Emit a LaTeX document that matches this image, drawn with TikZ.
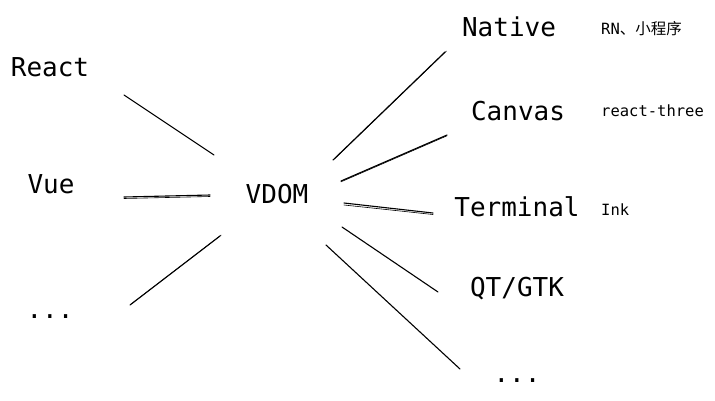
\documentclass[tikz,border=0pt]{standalone}
\usepackage{fontspec}
\setmonofont{DejaVu Sans Mono}
\newfontfamily\cjkfont{Noto Sans CJK SC}
\begin{document}
\begin{tikzpicture}[x=1pt,y=-1pt,
  big/.style={font=\ttfamily\fontsize{26}{30}\selectfont, inner sep=0pt, anchor=center},
  small/.style={font=\ttfamily\fontsize{15.5}{18}\selectfont, inner sep=0pt, anchor=west},
  link/.style={line width=1.1pt, line cap=round},
  sketch/.style={line width=0.6pt, line cap=round}]
\useasboundingbox (0,0) rectangle (715,400);
\fill[white] (0,0) rectangle (715,400);
% nodes
\node[big] (react) at (50,67) {React};
\node[big] (vue) at (51,184) {Vue};
\node[big] (ldots) at (50,317) {...};
\node[big] (vdom) at (277,194) {VDOM};
\node[big] (native) at (509,27) {Native};
\node[big] (canvas) at (518,111) {Canvas};
\node[big] (terminal) at (517,207) {Terminal};
\node[big] (qt) at (517,289) {QT/GTK};
\node[big] (rdots) at (517,381) {...};
\node[small] (rn) at (601,29) {RN{\cjkfont 、小程序}};
\node[small] (three) at (601,111) {react-three};
\node[small] (ink) at (601,210) {Ink};
% connector end points
\coordinate (a1) at (124,95);  \coordinate (a2) at (214,155);
\coordinate (b1) at (124,197); \coordinate (b2) at (210,195);
\coordinate (c1) at (130,305); \coordinate (c2) at (220,236);
\coordinate (d1) at (333,160); \coordinate (d2) at (445,52);
\coordinate (e1) at (341,181); \coordinate (e2) at (447,135);
\coordinate (f1) at (344,203); \coordinate (f2) at (433,213);
\coordinate (g1) at (342,227); \coordinate (g2) at (438,292);
\coordinate (h1) at (326,245); \coordinate (h2) at (460,369);
% connectors
\draw[link] (a1) -- (a2);
\draw[link] (b1) -- (b2);
\draw[sketch] ([yshift=-1.5pt]b1) -- ([yshift=-1.5pt]b2);
\draw[link] (c1) -- (c2);
\draw[sketch] ([xshift=1.2pt,yshift=1pt]c1) -- ([xshift=1.2pt,yshift=1pt]c2);
\draw[link] (d1) -- (d2);
\draw[sketch] ([xshift=1.5pt,yshift=1pt]d1) -- ([xshift=1.5pt,yshift=1pt]d2);
\draw[link] (e1) -- (e2);
\draw[sketch] ([yshift=-0.8pt]e1) -- ([yshift=-0.8pt]e2);
\draw[link] (f1) -- (f2);
\draw[sketch] ([yshift=-2pt]f1) -- ([yshift=-1.5pt]f2);
\draw[link] (g1) -- (g2);
\draw[link] (h1) -- (h2);
\end{tikzpicture}
\end{document}
